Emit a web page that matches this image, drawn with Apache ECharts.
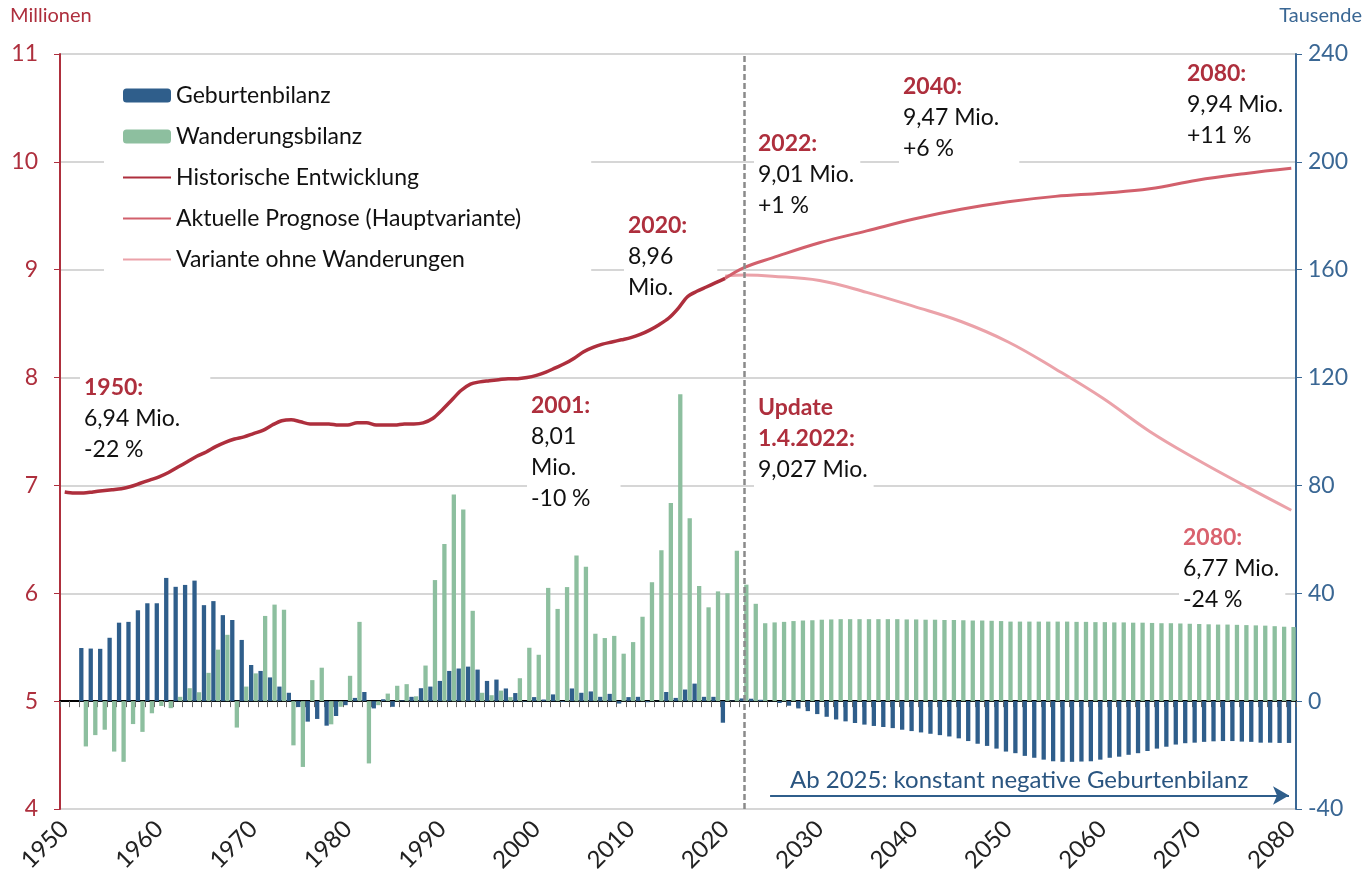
<!DOCTYPE html>
<html>
<head>
<meta charset="utf-8">
<script src="https://cdn.jsdelivr.net/npm/echarts@6/dist/echarts.min.js"></script>
<style>
html,body{margin:0;padding:0;background:#fff}
#chart{width:1365px;height:881px}
</style>
</head>
<body>
<div id="chart"></div>
<script>
// Jahre 1950..2080 als Kategorien
var years = [];
for (var y = 1950; y <= 2080; y++) years.push(String(y));

// Bilanzen in Tausend, ab 1952
var barStart = 1952;
var geburtenbilanz = [
  19.7, 19.5, 19.4, 23.5, 29.1, 29.4, 33.7, 36.3, 36.3, 45.7,   // 1952-1961
  42.4, 43.1, 44.7, 35.6, 37.1, 31.9, 30.1, 22.7, 13.4, 11.2,   // 1962-1971
  8.8, 5.4, 3.1, -2.2, -7.6, -6.6, -9.1, -5.5, -1.5, 1.2,       // 1972-1981
  3.4, -2.7, 0.7, -2.1, 0.3, 1.6, 4.8, 5.4, 7.5, 11.2,          // 1982-1991
  12.1, 12.8, 11.7, 7.5, 8.0, 4.7, 3.0, -0.2, 1.5, 0.6,         // 1992-2001
  2.5, -0.3, 4.7, 3.1, 3.6, 1.6, 2.7, -0.9, 1.5, 1.6,           // 2002-2011
  -0.4, 0.1, 3.4, 1.2, 4.3, 6.5, 1.6, 1.6, -8.0, 0.2,           // 2012-2021
  1.0, 0.9, 0.5, -0.1, -0.7, -1.7, -2.7, -3.7, -4.8, -5.8,      // 2022-2031
  -6.8, -7.5, -8.1, -8.7, -9.2, -9.6, -10.0, -10.6, -11.1, -11.6, // 2032-2041
  -12.1, -12.6, -13.1, -13.8, -14.8, -15.8, -16.6, -17.6, -18.7, -19.3, // 2042-2051
  -20.3, -21.0, -21.7, -22.3, -22.5, -22.5, -22.4, -22.3, -21.7, -21.0, // 2052-2061
  -20.6, -19.9, -19.3, -18.5, -17.6, -16.9, -16.1, -15.6, -15.4, -15.1, // 2062-2071
  -14.9, -14.8, -14.8, -15.0, -15.1, -15.4, -15.4, -15.5, -15.5          // 2072-2080
];
var wanderungsbilanz = [
  -16.8, -12.6, -10.6, -18.7, -22.5, -8.5, -11.4, -4.5, -1.8, -2.6, // 1952-1961
  1.6, 4.8, 3.3, 10.5, 19.1, 24.6, -9.8, 5.4, 10.3, 31.6,           // 1962-1971
  35.8, 33.9, -16.4, -24.4, 7.8, 12.4, -8.6, -2.1, 9.4, 29.4,       // 1972-1981
  -23.1, -1.5, 2.8, 5.7, 6.3, 1.8, 13.2, 44.9, 58.3, 76.6,          // 1982-1991
  71.1, 33.5, 3.1, 2.2, 3.9, 1.5, 8.5, 19.8, 17.2, 42.0,            // 1992-2001
  34.2, 42.3, 54.0, 49.8, 25.0, 23.4, 24.2, 17.6, 21.9, 31.3,       // 2002-2011
  44.1, 56.0, 73.5, 113.8, 67.8, 42.7, 34.8, 40.7, 40.0, 55.8,      // 2012-2021
  43.2, 36.1, 28.9, 29.2, 29.4, 29.7, 29.9, 30.0, 30.2, 30.3,       // 2022-2031
  30.4, 30.4, 30.4, 30.4, 30.4, 30.4, 30.4, 30.3, 30.3, 30.2,       // 2032-2041
  30.2, 30.1, 30.1, 30.0, 29.9, 29.9, 29.8, 29.7, 29.5, 29.5,       // 2042-2051
  29.5, 29.5, 29.5, 29.5, 29.5, 29.4, 29.4, 29.3, 29.3, 29.2,       // 2052-2061
  29.2, 29.1, 29.1, 29.0, 28.9, 28.9, 28.8, 28.7, 28.6, 28.5,       // 2062-2071
  28.4, 28.4, 28.3, 28.2, 28.1, 28.0, 27.8, 27.6, 27.5              // 2072-2080
];

// Bevölkerung in Millionen, historisch 1950-2020
var histStart = 1950;
var historisch = [
  6.94, 6.93, 6.93, 6.94, 6.95, 6.96, 6.97, 6.99, 7.02, 7.05,   // 1950-1959
  7.08, 7.12, 7.17, 7.22, 7.27, 7.31, 7.36, 7.40, 7.43, 7.45,   // 1960-1969
  7.48, 7.51, 7.56, 7.60, 7.61, 7.59, 7.57, 7.57, 7.57, 7.56,   // 1970-1979
  7.56, 7.58, 7.58, 7.56, 7.56, 7.56, 7.57, 7.57, 7.58, 7.62,   // 1980-1989
  7.70, 7.79, 7.88, 7.94, 7.96, 7.97, 7.98, 7.99, 7.99, 8.00,   // 1990-1999
  8.02, 8.05, 8.09, 8.13, 8.18, 8.24, 8.28, 8.31, 8.33, 8.35,   // 2000-2009
  8.37, 8.40, 8.44, 8.49, 8.55, 8.64, 8.75, 8.80, 8.84, 8.88,   // 2010-2019
  8.92                                                          // 2020
];
var prognoseJahre = [2020, 2022, 2025, 2030, 2035, 2040, 2045, 2050, 2055, 2060, 2065, 2070, 2075, 2080];
var prognose      = [8.92, 9.02, 9.11, 9.25, 9.36, 9.47, 9.56, 9.63, 9.68, 9.71, 9.75, 9.83, 9.89, 9.94];
var varianteJahre = [2020, 2022, 2025, 2030, 2035, 2040, 2045, 2050, 2055, 2060, 2065, 2070, 2075, 2080];
var variante      = [8.94, 8.95, 8.94, 8.90, 8.79, 8.66, 8.52, 8.33, 8.08, 7.81, 7.50, 7.24, 7.00, 6.77];

var leftTicks = [4, 11, 1];
var rightTicks = [-40, 240, 40];

function pad(arr, start) {
  var out = years.map(function () { return null; });
  arr.forEach(function (v, i) { out[start - 1950 + i] = v; });
  return out;
}
function pairs(ys, vs) {
  return ys.map(function (y, i) { return [String(y), vs[i]]; });
}

var RED = '#AE2F3D', BLUE = '#2F5E8B', GREEN = '#8DBF9F';
var FONT = 'Lato, "Open Sans", sans-serif';

var rich = {
  r: {fill: RED, fontWeight: 'bold', fontSize: 23, fontFamily: FONT, lineHeight: 31},
  p: {fill: '#D9626E', fontWeight: 'bold', fontSize: 23, fontFamily: FONT, lineHeight: 31},
  k: {fill: '#111', fontSize: 23, fontFamily: FONT, lineHeight: 31}
};
// Textkästen liegen unter den Linien, aber über den Gitterlinien
function note(x, y, txt, padding) {
  return {
    type: 'text', left: x, top: y, z: 1,
    style: {text: txt, rich: rich, backgroundColor: '#fff', padding: padding || [2, 6, 2, 4]}
  };
}

var lineItem = {opacity: 0};

var chart = echarts.init(document.getElementById('chart'));
var option = {
  animation: false,
  textStyle: {fontFamily: FONT},
  grid: {left: 60, right: 69, top: 54, bottom: 72},
  legend: {
    orient: 'vertical', left: 104, top: 72,
    backgroundColor: '#fff', padding: [12, 70, 12, 18],
    itemWidth: 48, itemHeight: 14, itemGap: 18,
    textStyle: {fontSize: 23, color: '#111', fontFamily: FONT},
    data: [
      'Geburtenbilanz', 'Wanderungsbilanz',
      {name: 'Historische Entwicklung', itemStyle: lineItem},
      {name: 'Aktuelle Prognose (Hauptvariante)', itemStyle: lineItem},
      {name: 'Variante ohne Wanderungen', itemStyle: lineItem}
    ]
  },
  xAxis: {
    type: 'category', data: years, boundaryGap: true,
    axisLine: {lineStyle: {color: '#000', width: 2}},
    axisTick: {show: true, interval: 0, length: 6, lineStyle: {color: '#666'}},
    axisLabel: {
      interval: function (i, v) { return Number(v) % 10 === 0; },
      rotate: 45, fontSize: 24, color: '#222', margin: 16
    },
    splitLine: {show: false}
  },
  yAxis: [{
    type: 'value', min: leftTicks[0], max: leftTicks[1], interval: leftTicks[2],
    axisLine: {show: true, lineStyle: {color: RED, width: 2}},
    axisTick: {show: true, length: 6, lineStyle: {color: RED}},
    axisLabel: {fontSize: 23, color: RED, margin: 22},
    splitLine: {lineStyle: {color: '#c8c8c8', width: 1.5}}
  }, {
    type: 'value', min: rightTicks[0], max: rightTicks[1], interval: rightTicks[2],
    axisLine: {show: true, lineStyle: {color: '#3A6794', width: 2}},
    axisTick: {show: true, length: 6, lineStyle: {color: '#3A6794'}},
    axisLabel: {fontSize: 23, color: '#3A6794', margin: 12},
    splitLine: {show: false}
  }],
  series: [{
    name: 'Geburtenbilanz', type: 'bar', yAxisIndex: 1,
    data: pad(geburtenbilanz, barStart),
    barWidth: 4.3, barGap: '6%',
    itemStyle: {color: BLUE},
    markLine: {
      silent: true, symbol: ['none', 'arrow'], symbolSize: [14, 16],
      lineStyle: {color: BLUE, width: 2, type: 'solid'}, label: {show: false},
      data: [[{coord: ['2025', -35]}, {coord: ['2080', -35]}]]
    }
  }, {
    name: 'Wanderungsbilanz', type: 'bar', yAxisIndex: 1,
    data: pad(wanderungsbilanz, barStart),
    barWidth: 4.3, barGap: '6%',
    itemStyle: {color: GREEN}
  }, {
    name: 'Historische Entwicklung', type: 'line', yAxisIndex: 0,
    data: pad(historisch, histStart), symbol: 'none', smooth: 0.3,
    lineStyle: {color: RED, width: 3.5}, itemStyle: {color: RED}, z: 5,
    markLine: {
      silent: true, symbol: 'none', label: {show: false},
      lineStyle: {color: '#8a8a8a', width: 2.5, type: [6, 3]},
      data: [{xAxis: '2022'}]
    }
  }, {
    name: 'Aktuelle Prognose (Hauptvariante)', type: 'line', yAxisIndex: 0,
    data: pairs(prognoseJahre, prognose), symbol: 'none', smooth: 0.4,
    lineStyle: {color: '#D2606C', width: 3}, itemStyle: {color: '#D2606C'}, z: 4
  }, {
    name: 'Variante ohne Wanderungen', type: 'line', yAxisIndex: 0,
    data: pairs(varianteJahre, variante), symbol: 'none', smooth: 0.4,
    lineStyle: {color: '#EBA2A9', width: 3}, itemStyle: {color: '#EBA2A9'}, z: 3
  }],
  graphic: [
    {type: 'text', left: 10, top: 6, style: {text: 'Millionen', fill: RED, fontSize: 20, fontFamily: FONT}},
    {type: 'text', right: 3, top: 6, style: {text: 'Tausende', fill: '#3A6794', fontSize: 20, fontFamily: FONT}},
    note(80, 370, '{r|1950:}\n{k|6,94 Mio.}\n{k|-22 %}', [2, 30, 4, 4]),
    note(527, 388, '{r|2001:}\n{k|8,01}\n{k|Mio.}\n{k|-10 %}', [2, 30, 4, 4]),
    note(624, 208, '{r|2020:}\n{k|8,96}\n{k|Mio.}', [2, 30, 4, 4]),
    note(754, 126, '{r|2022:}\n{k|9,01 Mio.}\n{k|+1 %}', [2, 6, 4, 4]),
    note(899, 69, '{r|2040:}\n{k|9,47 Mio.}\n{k|+6 %}', [2, 20, 4, 4]),
    note(1183, 56, '{r|2080:}\n{k|9,94 Mio.}\n{k|+11 %}', [2, 6, 4, 4]),
    note(754, 390, '{r|Update}\n{r|1.4.2022:}\n{k|9,027 Mio.}', [2, 6, 4, 4]),
    note(1179, 520, '{p|2080:}\n{k|6,77 Mio.}\n{k|-24 %}', [2, 6, 4, 4]),
    {type: 'text', left: 790, top: 768, z: 100,
     style: {text: 'Ab 2025: konstant negative Geburtenbilanz', fill: '#2A5580', fontSize: 24, fontFamily: FONT}}
  ]
};
chart.setOption(option);
</script>
</body>
</html>
